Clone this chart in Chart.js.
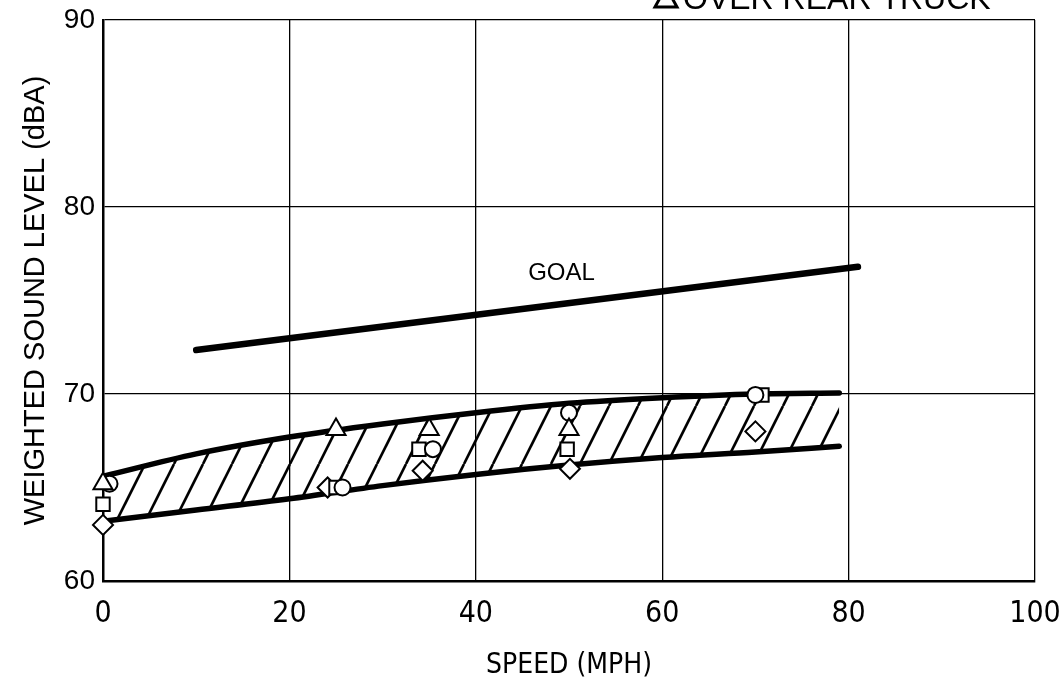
<!DOCTYPE html>
<html>
<head>
<meta charset="utf-8">
<script src="https://cdn.jsdelivr.net/npm/chart.js@4"></script>
<style>
  html, body { margin: 0; padding: 0; background: #fff; }
  #wrap { width: 1062px; height: 685px; }
</style>
</head>
<body>
<div id="wrap"><canvas id="soundChart"></canvas></div>
<script>
// axis ticks
const speedTicks = [0, 20, 40, 60, 80, 100];
const levelTicks = [60, 70, 80, 90];

// shaded band
const bandSpeed = [0, 10, 20, 30, 40, 50, 60, 70, 79];
const bandUpper = [65.6, 66.8, 67.7, 68.4, 69.0, 69.5, 69.8, 70.0, 70.05];
const bandLower = [63.2, 63.8, 64.4, 65.1, 65.7, 66.2, 66.6, 66.9, 67.2];

// goal line
const goalSpeed = [10, 81];
const goalLevel = [72.35, 76.8];

// measured points (one array pair per symbol)
const triSpeed = [0, 25, 35, 50];
const triLevel = [65.2, 68.1, 68.1, 68.1];
const circSpeed = [0.7, 25.7, 35.4, 50, 70];
const circLevel = [65.2, 65.0, 67.05, 69.0, 69.95];
const sqSpeed = [0, 25, 33.9, 49.8, 70.7];
const sqLevel = [64.1, 65.0, 67.05, 67.05, 69.95];
const diaSpeed = [0, 24.1, 34.3, 50.1, 70];
const diaLevel = [63.0, 65.0, 65.9, 66.0, 68.0];

const toPoints = (xs, ys) => xs.map((x, i) => ({ x: x, y: ys[i] }));

// diagonal hatching for the band
function makeHatch() {
    const c = document.createElement('canvas');
    c.width = 29;
    c.height = 58;
    const g = c.getContext('2d');
    g.strokeStyle = '#000';
    g.lineWidth = 2.6;
    [-29, 0, 29].forEach(dx => {
        g.beginPath();
        g.moveTo(dx, 58);
        g.lineTo(dx + 29, 0);
        g.stroke();
    });
    return g.createPattern(c, 'repeat');
}

const markerBase = {
    showLine: false,
    borderColor: '#000',
    backgroundColor: '#fff',
    pointBorderWidth: 2,
    clip: false
};

// GOAL label and the (cut off) legend entry at the top
const labelsPlugin = {
    id: 'labels',
    afterDatasetsDraw(chart) {
        const ctx = chart.ctx;
        const xs = chart.scales.x, ys = chart.scales.y;
        ctx.save();
        ctx.fillStyle = '#000';
        ctx.font = '24px "Liberation Sans", Arial, sans-serif';
        ctx.textAlign = 'center';
        ctx.textBaseline = 'middle';
        ctx.fillText('GOAL', xs.getPixelForValue(49.2), ys.getPixelForValue(76.45));

        ctx.font = '32px "Liberation Sans", Arial, sans-serif';
        ctx.textAlign = 'left';
        ctx.textBaseline = 'alphabetic';
        ctx.fillText('OVER REAR TRUCK', 683, 9);
        ctx.strokeStyle = '#000';
        ctx.lineWidth = 3;
        ctx.beginPath();
        ctx.moveTo(655, 7);
        ctx.lineTo(677, 7);
        ctx.lineTo(666, -13);
        ctx.closePath();
        ctx.stroke();
        ctx.restore();
    }
};

Chart.defaults.color = '#000';
Chart.defaults.font.family = '"Liberation Sans", Arial, sans-serif';

const config = {
    type: 'line',
    data: {
        datasets: [
            Object.assign({ label: 'triangle', data: toPoints(triSpeed, triLevel), pointStyle: 'triangle', pointRadius: 11 }, markerBase),
            Object.assign({ label: 'circle', data: toPoints(circSpeed, circLevel), pointStyle: 'circle', pointRadius: 8 }, markerBase),
            Object.assign({ label: 'square', data: toPoints(sqSpeed, sqLevel), pointStyle: 'rect', pointRadius: 9.5 }, markerBase),
            Object.assign({ label: 'diamond', data: toPoints(diaSpeed, diaLevel), pointStyle: 'rectRot', pointRadius: 10 }, markerBase),
            {
                label: 'GOAL',
                data: toPoints(goalSpeed, goalLevel),
                borderColor: '#000',
                borderWidth: 6.5,
                borderCapStyle: 'round',
                pointRadius: 0,
                fill: false
            },
            {
                label: 'upper',
                data: toPoints(bandSpeed, bandUpper),
                borderColor: '#000',
                borderWidth: 5.5,
                borderCapStyle: 'round',
                cubicInterpolationMode: 'monotone',
                pointRadius: 0,
                fill: '+1',
                backgroundColor: makeHatch()
            },
            {
                label: 'lower',
                data: toPoints(bandSpeed, bandLower),
                borderColor: '#000',
                borderWidth: 5.5,
                borderCapStyle: 'round',
                cubicInterpolationMode: 'monotone',
                pointRadius: 0,
                fill: false
            }
        ]
    },
    options: {
        responsive: false,
        animation: false,
        layout: { padding: { top: 20, right: 27, left: 0, bottom: 0 } },
        plugins: {
            legend: { display: false },
            tooltip: { enabled: false }
        },
        scales: {
            x: {
                type: 'linear',
                min: 0,
                max: 100,
                afterFit: s => {
                    s.height = 104;
                    s.paddingLeft = 0;
                    s.paddingRight = 0;
                },
                afterBuildTicks: s => { s.ticks = speedTicks.map(v => ({ value: v })); },
                grid: { color: '#000', lineWidth: 1.3, drawTicks: false },
                border: { color: '#000', width: 2.5 },
                ticks: {
                    padding: 15,
                    font: { size: 30, family: '"Liberation Sans Narrow", "DejaVu Sans Condensed", sans-serif' }
                },
                title: {
                    display: true,
                    text: 'SPEED (MPH)',
                    padding: { top: 0, bottom: 2 },
                    font: { size: 28, family: '"Liberation Sans Narrow", "DejaVu Sans Condensed", sans-serif' }
                }
            },
            y: {
                min: 60,
                max: 90,
                afterFit: s => {
                    s.width = 103;
                    s.paddingTop = 0;
                    s.paddingBottom = 0;
                },
                afterBuildTicks: s => { s.ticks = levelTicks.map(v => ({ value: v })); },
                grid: { color: '#000', lineWidth: 1.3, drawTicks: false },
                border: { color: '#000', width: 2.5 },
                ticks: { padding: 8, font: { size: 28 } },
                title: {
                    display: true,
                    text: 'WEIGHTED SOUND LEVEL (dBA)',
                    padding: { top: 19, bottom: 0 },
                    font: { size: 29 }
                }
            }
        }
    },
    plugins: [labelsPlugin]
};

const canvas = document.getElementById('soundChart');
canvas.width = 1062;
canvas.height = 685;
const soundChart = new Chart(canvas, config);
</script>
</body>
</html>
